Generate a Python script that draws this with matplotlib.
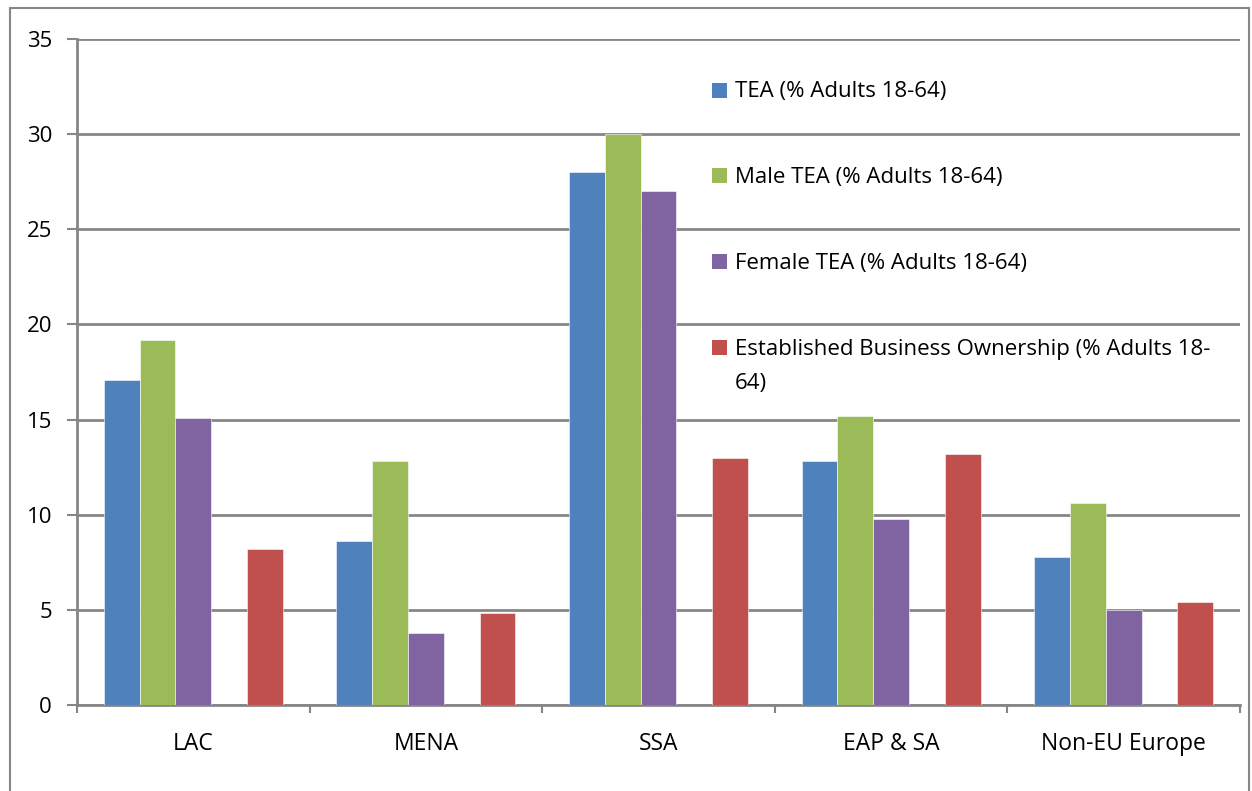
import matplotlib
matplotlib.use("Agg")
import matplotlib.pyplot as plt
import numpy as np
from matplotlib.patches import Rectangle

categories = ["LAC", "MENA", "SSA", "EAP & SA", "Non-EU Europe"]
series_names = ["TEA (% Adults 18-64)", "Male TEA (% Adults 18-64)",
                "Female TEA (% Adults 18-64)",
                "Established Business Ownership (% Adults 18-\n64)"]
tea = [17.1, 8.6, 28.0, 12.8, 7.8]
male_tea = [19.2, 12.8, 30.0, 15.2, 10.6]
female_tea = [15.1, 3.8, 27.0, 9.8, 5.0]
established = [8.2, 4.85, 13.0, 13.2, 5.4]
colors = ["#4F81BD", "#9BBB59", "#8064A2", "#C0504D"]
yticks = [0, 5, 10, 15, 20, 25, 30, 35]

W, H, DPI = 1252, 791, 100
AX_L, AX_R, AX_T, AX_B = 77, 1240, 39, 705
fig = plt.figure(figsize=(W / DPI, H / DPI), dpi=DPI)
ax = fig.add_axes([AX_L / W, 1 - AX_B / H, (AX_R - AX_L) / W, (AX_B - AX_T) / H])

# outer chart border
fig.patches.append(Rectangle((10 / W, -0.05), (1249 - 10) / W, 1.05 - 8 / H,
                             transform=fig.transFigure, fill=False,
                             edgecolor="#868686", linewidth=1.5))

slots = 6.5
bw = 1 / slots
x = np.arange(len(categories))
series = [tea, male_tea, female_tea, established]
slot_idx = [0, 1, 2, 4]
for s, vals, col in zip(slot_idx, series, colors):
    pos = x + (0.75 + s + 0.5) * bw
    ax.bar(pos, vals, width=bw, color=col, edgecolor="white", linewidth=0.4, zorder=3)

ax.set_xlim(0, len(categories))
ax.set_ylim(0, 35)
ax.set_yticks(yticks)
ax.set_yticklabels([str(v) for v in yticks], fontsize=16, family="Open Sans")
ax.yaxis.grid(True, color="#868686", linewidth=2, zorder=0)
ax.set_axisbelow(True)

ax.set_xticks(np.arange(len(categories) + 1))
ax.set_xticklabels([])
ax.set_xticks(x + 0.5, minor=True)
ax.set_xticklabels(categories, minor=True, fontsize=16.5, family="Open Sans")
ax.tick_params(axis="x", which="major", length=6, color="#868686", width=1.5, direction="out")
ax.tick_params(axis="x", which="minor", length=0, pad=19.5)
ax.tick_params(axis="y", length=7, color="#868686", width=1.5, direction="out", pad=11)

for side in ["top", "right"]:
    ax.spines[side].set_visible(False)
for side in ["left", "bottom"]:
    ax.spines[side].set_color("#868686")
    ax.spines[side].set_linewidth(2)

# legend drawn inside the plot area
def ax_fx(px):
    return (px - AX_L) / (AX_R - AX_L)

def ax_fy(py):
    return 1 - (py - AX_T) / (AX_B - AX_T)

mk = 15
for i, (name, col) in enumerate(zip(series_names, colors)):
    cy = 90 + i * 85.7
    ax.add_patch(Rectangle((ax_fx(712), ax_fy(cy + mk / 2)), mk / (AX_R - AX_L),
                           mk / (AX_B - AX_T), transform=ax.transAxes,
                           facecolor=col, edgecolor="none", zorder=5, clip_on=False))
    for j, line in enumerate(name.split("\n")):
        ax.text(ax_fx(735), ax_fy(cy + 7.5 + j * 34), line, transform=ax.transAxes,
                ha="left", va="baseline", fontsize=16, family="Open Sans", zorder=5)

fig.savefig("out.png", dpi=DPI)
